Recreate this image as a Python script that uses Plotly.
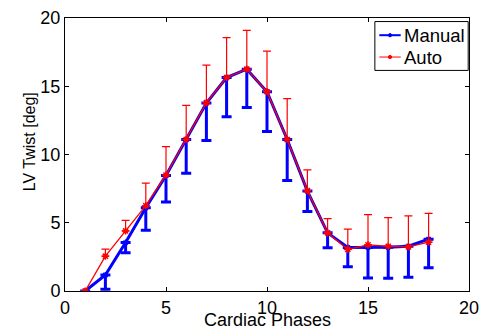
import plotly.graph_objects as go

phases = list(range(1, 19))
manual = [0, 1.17, 3.55, 6.1, 8.47, 11.1, 13.77, 15.64, 16.25, 14.6, 11.1, 7.32, 4.26, 3.19, 3.19, 3.2, 3.28, 3.8]
manual_err = [0, 1.05, 0.75, 1.65, 1.95, 2.47, 2.75, 2.87, 2.8, 2.92, 3.0, 1.5, 1.1, 1.42, 2.24, 2.27, 2.28, 2.1]
auto = [0, 2.55, 4.4, 6.25, 8.5, 11.1, 13.8, 15.64, 16.25, 14.6, 11.1, 7.35, 4.26, 3.04, 3.38, 3.28, 3.23, 3.58]
auto_err = [0, 0.52, 0.78, 1.65, 2.08, 2.5, 2.75, 2.92, 2.85, 2.97, 3.0, 1.53, 1.04, 1.5, 2.22, 2.1, 2.27, 2.1]
zeros = [0] * len(phases)
ticks = [0, 5, 10, 15, 20]
series_names = ["Manual", "Auto"]
series_colors = ["#0000ff", "#ff0000"]

FONT = "Liberation Sans, Arial, sans-serif"

fig = go.Figure()
fig.add_trace(go.Scatter(
    x=phases, y=manual, name=series_names[0], mode="lines+markers",
    line=dict(color=series_colors[0], width=3),
    marker=dict(symbol="asterisk-open", size=5, color=series_colors[0], line=dict(color=series_colors[0], width=1.5)),
    error_y=dict(type="data", symmetric=False, array=zeros, arrayminus=manual_err,
                 color=series_colors[0], thickness=3, width=5),
))
fig.add_trace(go.Scatter(
    x=phases, y=auto, name=series_names[1], mode="lines+markers",
    line=dict(color=series_colors[1], width=1.3),
    marker=dict(symbol="asterisk-open", size=6, color=series_colors[1], line=dict(color=series_colors[1], width=1.5)),
    error_y=dict(type="data", symmetric=False, array=auto_err, arrayminus=zeros,
                 color=series_colors[1], thickness=1.2, width=4),
))

axis_common = dict(
    showgrid=False, zeroline=False, showline=True, linecolor="black", linewidth=1,
    mirror="ticks", ticks="inside", ticklen=4, tickcolor="black", automargin=False,
    tickfont=dict(family=FONT, size=18, color="black"),
)
fig.update_xaxes(range=[0, 20], tickvals=ticks, **axis_common)
fig.update_yaxes(range=[0, 20], tickvals=ticks, **axis_common)

fig.add_annotation(text="Cardiac Phases", xref="paper", yref="paper", x=0.5, y=-0.107,
                   xanchor="center", yanchor="middle", showarrow=False,
                   font=dict(family=FONT, size=18, color="black"))
fig.add_annotation(text="LV Twist [deg]", xref="paper", yref="paper", x=-0.087, y=0.548,
                   xanchor="center", yanchor="middle", showarrow=False, textangle=-90,
                   font=dict(family=FONT, size=16, color="black"))

# legend drawn by hand (MATLAB-style compact box)
fig.add_shape(type="rect", xref="paper", yref="paper", x0=0.767, x1=0.998, y0=0.808, y1=0.987,
              line=dict(color="black", width=1), fillcolor="white", layer="above")
legend_rows_y = [0.937, 0.857]
legend_line_widths = [2, 1]
for name, color, ly, lw in zip(series_names, series_colors, legend_rows_y, legend_line_widths):
    fig.add_shape(type="line", xref="paper", yref="paper", x0=0.778, x1=0.831, y0=ly, y1=ly,
                  line=dict(color=color, width=lw), layer="above")
    fig.add_shape(type="circle", xref="paper", yref="paper",
                  x0=0.8045 - 0.004, x1=0.8045 + 0.004, y0=ly - 0.006, y1=ly + 0.006,
                  line=dict(color=color, width=1), fillcolor=color, layer="above")
    fig.add_annotation(text=name, xref="paper", yref="paper", x=0.833, y=ly,
                       xanchor="left", yanchor="middle", showarrow=False,
                       font=dict(family=FONT, size=18.5, color="black"))

# the page body adds an 8px margin, so the figure is sized to fit the 495x330 window
fig.update_layout(
    width=487, height=322,
    margin=dict(l=57, r=26, t=9.5, b=39, autoexpand=False),
    paper_bgcolor="white", plot_bgcolor="white",
    showlegend=False,
)

fig.write_html("out.html")
